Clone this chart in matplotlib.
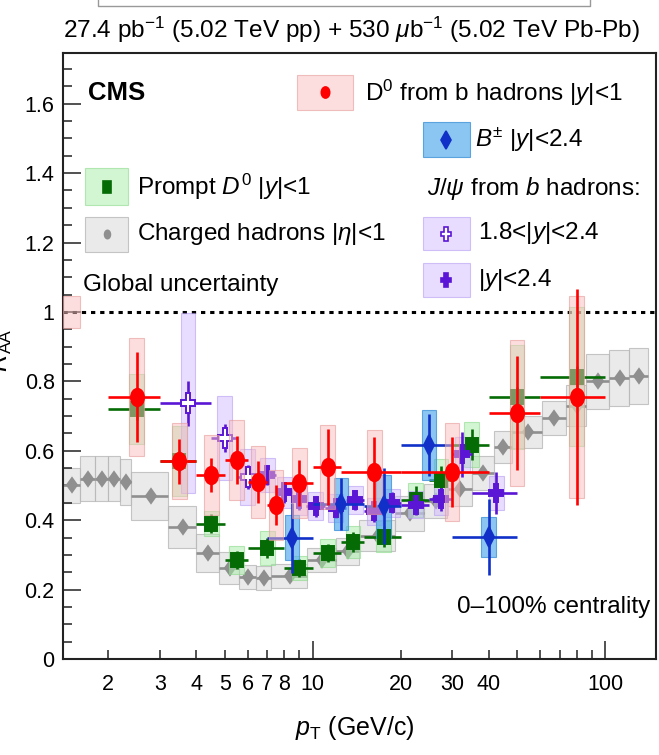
import matplotlib
matplotlib.use('Agg')
import matplotlib.pyplot as plt
import numpy as np
from matplotlib.markers import MarkerStyle
from matplotlib.transforms import Affine2D
from matplotlib.lines import Line2D
from matplotlib.patches import Rectangle
from matplotlib.ticker import FixedLocator, FuncFormatter, MultipleLocator

FONT = ['Liberation Sans', 'DejaVu Sans']
plt.rcParams['font.family'] = FONT
plt.rcParams['mathtext.fontset'] = 'custom'
plt.rcParams['mathtext.rm'] = 'Liberation Sans'
plt.rcParams['mathtext.it'] = 'Liberation Sans:italic'
plt.rcParams['mathtext.bf'] = 'Liberation Sans:bold'

# charged hadrons |eta|<1 (bin edges, value, syst.)
ch_lo = [1.4, 1.6, 1.8, 2.0, 2.2, 2.4, 3.2, 4.0, 4.8, 5.6, 6.4, 7.2, 9.6, 12.0, 14.4, 19.2, 24.0,
         28.8, 35.2, 41.6, 48.0, 60.8, 73.6, 86.4, 103.6, 120.8]
ch_hi = [1.6, 1.8, 2.0, 2.2, 2.4, 3.2, 4.0, 4.8, 5.6, 6.4, 7.2, 9.6, 12.0, 14.4, 19.2, 24.0, 28.8,
         35.2, 41.6, 48.0, 60.8, 73.6, 86.4, 103.6, 120.8, 140.0]
ch_val = [0.50, 0.52, 0.52, 0.52, 0.51, 0.47, 0.38, 0.305, 0.262, 0.236, 0.233, 0.24, 0.285, 0.31,
          0.355, 0.42, 0.455, 0.49, 0.536, 0.611, 0.654, 0.694, 0.73, 0.80, 0.81, 0.815]
ch_sys = [0.05, 0.065, 0.065, 0.065, 0.065, 0.07, 0.06, 0.055, 0.045, 0.035, 0.035, 0.035, 0.035,
          0.04, 0.045, 0.05, 0.05, 0.05, 0.05, 0.045, 0.045, 0.05, 0.06, 0.08, 0.08, 0.08]

# prompt D0 |y|<1
pd_lo = [2, 3, 4, 5, 6, 8, 10, 12.5, 15, 20, 25, 30, 40, 60]
pd_hi = [3, 4, 5, 6, 8, 10, 12.5, 15, 20, 25, 30, 40, 60, 100]
pd_val = [0.72, 0.57, 0.39, 0.285, 0.32, 0.262, 0.305, 0.337, 0.352, 0.458, 0.516, 0.617, 0.755, 0.813]
pd_stat = [0.03, 0.03, 0.027, 0.025, 0.03, 0.025, 0.025, 0.03, 0.03, 0.04, 0.04, 0.045, 0.03, 0.03]
pd_sys = [0.1, 0.1, 0.035, 0.04, 0.05, 0.035, 0.04, 0.045, 0.045, 0.05, 0.06, 0.065, 0.15, 0.2]

# D0 from b hadrons |y|<1
nd_lo = [2, 3, 4, 5, 6, 7, 8, 10, 12.5, 20, 40, 60]
nd_hi = [3, 4, 5, 6, 7, 8, 10, 12.5, 20, 40, 60, 100]
nd_val = [0.755, 0.57, 0.53, 0.573, 0.51, 0.444, 0.507, 0.553, 0.539, 0.539, 0.709, 0.755]
nd_stat = [0.13, 0.065, 0.05, 0.07, 0.06, 0.058, 0.065, 0.11, 0.1, 0.1, 0.165, 0.31]
nd_sys = [0.17, 0.11, 0.115, 0.115, 0.105, 0.1, 0.1, 0.12, 0.12, 0.14, 0.21, 0.29]

# B+- |y|<2.4
b_lo = [7, 10, 15, 20, 30]
b_hi = [10, 15, 20, 30, 50]
b_val = [0.349, 0.447, 0.44, 0.617, 0.352]
b_stat = [0.1, 0.075, 0.11, 0.09, 0.11]
b_sys = [0.065, 0.075, 0.09, 0.1, 0.058]

# J/psi from b hadrons, 1.8<|y|<2.4
jf_lo = [3, 4.5, 5.5]
jf_hi = [4.5, 5.5, 6.5]
jf_val = [0.737, 0.637, 0.525]
jf_stat = [0.065, 0.04, 0.035]
jf_sys = [0.26, 0.12, 0.08]

# J/psi from b hadrons, |y|<2.4
ja_lo = [6.5, 7.5, 8.5, 9.5, 11, 13, 15, 17.5, 20, 25, 30, 35]
ja_hi = [7.5, 8.5, 9.5, 11, 13, 15, 17.5, 20, 25, 30, 35, 50]
ja_val = [0.53, 0.48, 0.46, 0.44, 0.435, 0.458, 0.425, 0.45, 0.445, 0.46, 0.59, 0.478]
ja_stat = [0.03, 0.03, 0.03, 0.03, 0.03, 0.03, 0.03, 0.03, 0.03, 0.035, 0.065, 0.06]
ja_sys = [0.05, 0.045, 0.045, 0.04, 0.04, 0.04, 0.04, 0.04, 0.04, 0.045, 0.05, 0.05]

x_labels = [2, 3, 4, 5, 6, 7, 8, 10, 20, 30, 40, 100]
glob_unc = 0.045

W, H = 659, 755
fig = plt.figure(figsize=(W / 100, H / 100), dpi=100)
ax = fig.add_axes([63 / W, 1 - 659 / H, 593 / W, 606 / H])
ax.set_xscale('log')

BOXW = 1.06  # half width of the narrow syst. boxes (multiplicative, log axis)


def mk(shape, sx, sy=1.0):
    return MarkerStyle(shape, transform=Affine2D().scale(sx, sy))


def draw_series(lo, hi, val, stat, sys, col, face, edge, marker, ms, mfc=None, full_box=False, z=3):
    lo, hi, val = np.array(lo, float), np.array(hi, float), np.array(val, float)
    xc = (lo + hi) / 2
    if full_box:
        blo, bhi = lo, hi
    else:
        blo, bhi = xc / BOXW, xc * BOXW
    sys = np.array(sys, float)
    ax.bar(blo, 2 * sys, width=bhi - blo, bottom=val - sys, align='edge', color=face,
           edgecolor=edge, linewidth=0.8, zorder=z - 1)
    ax.errorbar(xc, val, yerr=stat, xerr=[xc - lo, hi - xc], fmt='none', ecolor=col,
                elinewidth=1.9, capsize=0, zorder=z)
    ax.plot(xc, val, linestyle='none', marker=marker, ms=ms, color=col,
            mfc=mfc if mfc else col, mec=col, mew=1.4, zorder=z + 0.5)


gray_face, gray_edge = (0.82, 0.82, 0.82, 0.45), (0.72, 0.72, 0.72, 0.8)
pink_face, pink_edge = (0.98, 0.75, 0.75, 0.5), (0.9, 0.6, 0.6, 0.6)
green_face, green_edge = (0.65, 0.93, 0.65, 0.5), (0.55, 0.85, 0.55, 0.6)
blue_face, blue_edge = (0.30, 0.66, 0.92, 0.65), (0.25, 0.58, 0.85, 0.8)
lav_face, lav_edge = (0.80, 0.70, 1.0, 0.45), (0.72, 0.62, 0.95, 0.6)

c_red, c_green, c_blue, c_purple, c_gray = '#ff0000', '#056b05', '#1030c8', '#5a16d4', '#8f8f8f'

# charged hadrons (grey, full bin boxes)
draw_series(ch_lo, ch_hi, ch_val, [0] * len(ch_val), ch_sys, c_gray, gray_face, gray_edge,
            mk('D', 0.8), 7, full_box=True, z=2)
draw_series(pd_lo, pd_hi, pd_val, pd_stat, pd_sys, c_green, green_face, green_edge, mk('s', 0.8), 10, z=5)
draw_series(jf_lo, jf_hi, jf_val, jf_stat, jf_sys, c_purple, lav_face, lav_edge, mk('P', 0.75), 14,
            mfc='white', z=5)
draw_series(ja_lo, ja_hi, ja_val, ja_stat, ja_sys, c_purple, lav_face, lav_edge, mk('P', 0.75), 13, z=5)
draw_series(b_lo, b_hi, b_val, b_stat, b_sys, c_blue, blue_face, blue_edge, mk('D', 0.55), 10, z=6)
draw_series(nd_lo, nd_hi, nd_val, nd_stat, nd_sys, c_red, pink_face, pink_edge, mk('o', 0.75), 12.5, z=7)

# global uncertainty box and unity line
ax.bar(1.4, 2 * glob_unc, width=0.2, bottom=1 - glob_unc, align='edge', color=pink_face,
       edgecolor=pink_edge, linewidth=0.8, zorder=3)
ax.axhline(1.0, color='black', lw=2.2, linestyle=(0, (1.4, 1.6)), zorder=1)

ax.set_xlim(1.4, 149.5)
ax.set_ylim(0, 1.746)

ax.xaxis.set_major_locator(FixedLocator([10, 100]))
ax.xaxis.set_minor_locator(FixedLocator([2, 3, 4, 5, 6, 7, 8, 9, 20, 30, 40, 50, 60, 70, 80, 90]))
lab = lambda v, p: ('%g' % v) if any(abs(v - t) < 1e-6 for t in x_labels) else ''
ax.xaxis.set_major_formatter(FuncFormatter(lab))
ax.xaxis.set_minor_formatter(FuncFormatter(lab))
ax.yaxis.set_major_locator(MultipleLocator(0.2))
ax.yaxis.set_minor_locator(MultipleLocator(0.05))
ax.yaxis.set_major_formatter(FuncFormatter(lambda v, p: '%g' % round(v, 2)))

ax.tick_params(which='both', direction='in', top=False, right=False, width=1.1, labelsize=15.5,
               color='#222222')
ax.tick_params(which='major', length=13)
ax.tick_params(which='minor', length=6.5)
ax.tick_params(axis='x', which='both', pad=11)
ax.tick_params(axis='y', which='both', pad=6)
for s in ax.spines.values():
    s.set_linewidth(1.5)
    s.set_color('#222222')

# legend (drawn by hand in axes fraction)
T = ax.transAxes


def leg_box(x0, x1, y0, y1, face, edge, marker, ms, col, mfc=None):
    ax.add_patch(Rectangle((x0, y0), x1 - x0, y1 - y0, transform=T, facecolor=face,
                           edgecolor=edge, lw=0.8, zorder=8))
    ax.plot([(x0 + x1) / 2], [(y0 + y1) / 2], transform=T, marker=marker, ms=ms, color=col,
            mfc=mfc if mfc else col, mec=col, mew=1.2, linestyle='none', zorder=9)


FS = 17.5
leg_box(0.395, 0.489, 0.906, 0.964, pink_face, pink_edge, mk('o', 0.75), 8, c_red)
ax.text(0.509, 0.934, r'D$^{0}$ from b hadrons |$y$|<1', transform=T, fontsize=FS, va='center')
leg_box(0.607, 0.686, 0.828, 0.886, blue_face, blue_edge, mk('D', 0.55), 9, c_blue)
ax.text(0.695, 0.856, r'$B^{\pm}$ |$y$|<2.4', transform=T, fontsize=FS, va='center')
ax.text(0.614, 0.777, r'$J/\psi$ from $b$ hadrons:', transform=T, fontsize=FS, va='center')
leg_box(0.607, 0.686, 0.675, 0.729, lav_face, lav_edge, mk('P', 0.75), 10, c_purple, mfc='white')
ax.text(0.700, 0.703, r'1.8<|$y$|<2.4', transform=T, fontsize=FS, va='center')
leg_box(0.607, 0.686, 0.597, 0.653, lav_face, lav_edge, mk('P', 0.75), 10, c_purple)
ax.text(0.700, 0.625, r'|$y$|<2.4', transform=T, fontsize=FS, va='center')
leg_box(0.037, 0.110, 0.749, 0.810, green_face, green_edge, mk('s', 0.7), 8, c_green)
ax.text(0.125, 0.779, r'Prompt $D^{0}$ |$y$|<1', transform=T, fontsize=FS, va='center')
leg_box(0.037, 0.110, 0.672, 0.729, gray_face, gray_edge, mk('o', 0.7), 6, c_gray)
ax.text(0.125, 0.701, r'Charged hadrons |$\eta$|<1', transform=T, fontsize=FS, va='center')
ax.text(0.034, 0.617, 'Global uncertainty', transform=T, fontsize=FS, va='center')
ax.text(0.042, 0.934, 'CMS', transform=T, fontsize=18.5, fontweight='bold', va='center')
ax.text(0.99, 0.086, '0\u2013100% centrality', transform=T, fontsize=FS, va='center', ha='right')

# figure texts
fig.text(640 / W, 1 - 30 / H, r'27.4 pb$^{-1}$ (5.02 TeV pp) + 530 $\mu$b$^{-1}$ (5.02 TeV Pb-Pb)',
         ha='right', va='center', fontsize=17.6)
fig.text(355 / W, 1 - 728 / H, r'$p_{\mathrm{T}}$ (GeV/c)', ha='center', va='center', fontsize=18)
fig.text(1 / W, 1 - 350 / H, r'$R_{\mathrm{AA}}$', rotation=90, ha='center', va='center', fontsize=18)

# remains of the box above the plot
fig.add_artist(Line2D([98 / W, 98 / W, 590 / W, 590 / W], [1.0, 1 - 6 / H, 1 - 6 / H, 1.0],
                      color='#999999', lw=1.0))

fig.savefig('out.png', dpi=100)
